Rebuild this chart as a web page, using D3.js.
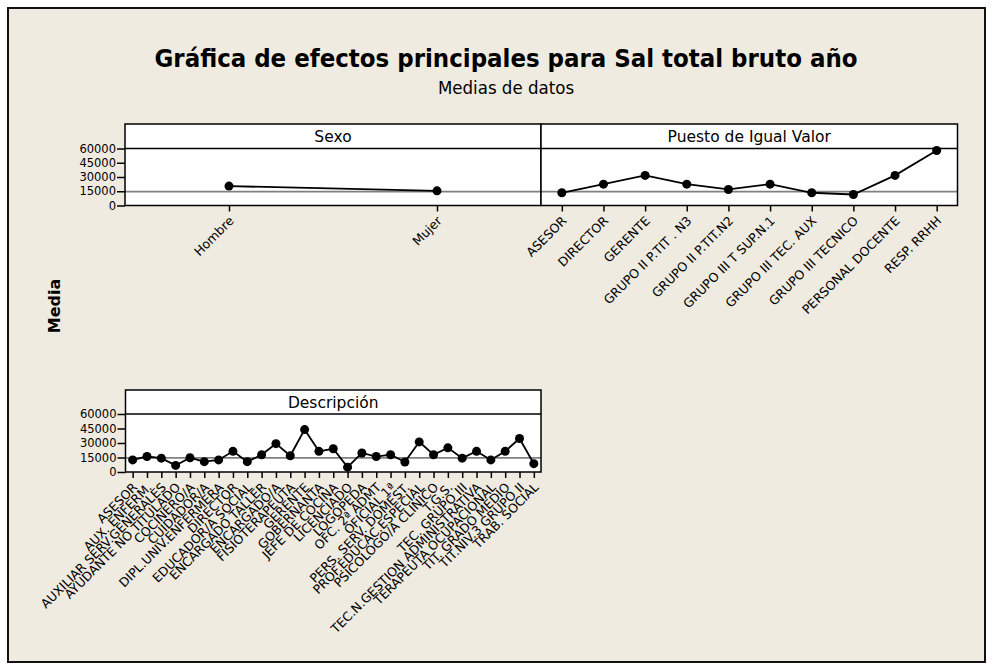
<!DOCTYPE html>
<html>
<head>
<meta charset="utf-8">
<script src="https://cdn.jsdelivr.net/npm/d3@7"></script>
<style>
  body { margin: 0; background: #fff; }
  svg text { font-family: Tahoma, "DejaVu Sans", sans-serif; fill: #000; }
</style>
</head>
<body>
<script>
// datos (medias de Sal total bruto año)
var sexoCats = ["Hombre", "Mujer"];
var sexoVals = [20400, 15400];

var puestoCats = ["ASESOR", "DIRECTOR", "GERENTE", "GRUPO II P.TIT . N3", "GRUPO II P.TIT.N2",
  "GRUPO III T SUP.N.1", "GRUPO III TEC. AUX", "GRUPO III TECNICO", "PERSONAL DOCENTE", "RESP. RRHH"];
var puestoVals = [13400, 22500, 31700, 22500, 16900, 22500, 13400, 11600, 31700, 57900];

var descCats = ["ASESOR", "AUX. ENFERM.", "AUXILIAR SERV.GENERALES", "AYUDANTE NO TITULADO",
  "COCINERO/A", "CUIDADOR/A", "DIPL.UNIV.ENFERMERA", "DIRECTOR", "EDUCADOR/A SOCIAL",
  "ENCARGADO TALLER", "ENCARGADO/A", "FISIOTERAPEUTA", "GERENTE", "GOBERNANTA",
  "JEFE DE COCINA", "LICENCIADO", "LOGOPEDA", "OFC. 2ª ADMT", "OFICIAL 1ª",
  "PERS. SERV. DOMEST.", "PROF.EDUCAC.ESPECIAL", "PSICOLOGO/A CLINICO", "T.G.S.",
  "TEC. GRUPO III", "TEC.N.GESTION ADMINISTRATIVA", "TERAPEUTA OCUPACIONAL",
  "TIT. GRADO MEDIO", "TIT.NIV.3 GRUPO II", "TRAB. SOCIAL"];
var descVals = [12500, 16000, 14300, 6800, 14700, 10700, 12500, 21400, 10700, 17900,
  29300, 16800, 43900, 21400, 24000, 5000, 19700, 16000, 17900, 10400,
  31100, 17900, 25000, 14300, 21400, 12500, 21400, 34700, 8600];

var mediaGeneral = 14700;
var yTicks = [0, 15000, 30000, 45000, 60000];

var W = 993, H = 670;
var svg = d3.select("body").append("svg")
    .attr("width", W)
    .attr("height", H);

// fondo beige con marco
svg.append("rect")
    .attr("x", 8).attr("y", 8)
    .attr("width", 977).attr("height", 654)
    .attr("fill", "#efebe1")
    .attr("stroke", "#111")
    .attr("stroke-width", 2);

// titulos
svg.append("text")
    .attr("x", 506).attr("y", 67)
    .attr("text-anchor", "middle")
    .style("font-size", "25.5px")
    .style("font-weight", "bold")
    .style("font-family", "'DejaVu Sans Condensed', 'DejaVu Sans', sans-serif")
    .text("Gráfica de efectos principales para Sal total bruto año");

svg.append("text")
    .attr("x", 506).attr("y", 94)
    .attr("text-anchor", "middle")
    .style("font-size", "18.5px")
    .style("font-family", "'DejaVu Sans Condensed', 'DejaVu Sans', sans-serif")
    .text("Medias de datos");

svg.append("text")
    .attr("transform", "translate(60,306) rotate(-90)")
    .attr("text-anchor", "middle")
    .style("font-size", "16px")
    .style("font-weight", "bold")
    .text("Media");

// dibuja un panel (tira con titulo + area de grafico)
function panel(p) {
  var g = svg.append("g");

  var x = d3.scalePoint()
      .domain(p.cats)
      .range([p.x0, p.x1])
      .padding(0.5);

  var y = d3.scaleLinear()
      .domain([0, 60000])
      .range([p.bottom, p.top]);

  g.append("rect")
      .attr("x", p.x0).attr("y", p.strip)
      .attr("width", p.x1 - p.x0).attr("height", p.bottom - p.strip)
      .attr("fill", "#fff");

  // linea de la media general
  g.append("line")
      .attr("x1", p.x0).attr("x2", p.x1)
      .attr("y1", y(mediaGeneral)).attr("y2", y(mediaGeneral))
      .attr("stroke", "#808080")
      .attr("stroke-width", 1.8);

  // eje x
  var ax = g.append("g")
      .attr("transform", "translate(0," + p.bottom + ")")
      .call(d3.axisBottom(x).tickSize(6).tickSizeOuter(0));
  ax.select(".domain").remove();
  ax.selectAll("line").attr("stroke", "#000").attr("stroke-width", 1.5);
  ax.selectAll("text")
      .attr("x", 0).attr("y", 0)
      .attr("dy", "0.35em")
      .attr("text-anchor", "end")
      .attr("transform", "translate(2,13) rotate(-45)")
      .style("font-size", "12.5px")
      .style("font-family", "Tahoma, 'DejaVu Sans', sans-serif");

  if (p.yAxis) {
    var ay = g.append("g")
        .attr("transform", "translate(" + p.x0 + ",0)")
        .call(d3.axisLeft(y).tickValues(yTicks).tickSize(8).tickSizeOuter(0).tickFormat(d3.format("d")));
    ay.select(".domain").remove();
    ay.selectAll("line").attr("stroke", "#000").attr("stroke-width", 1.5);
    ay.selectAll("text")
        .attr("x", -9)
        .style("font-size", "11.5px")
        .style("font-family", "Tahoma, 'DejaVu Sans', sans-serif");
  }

  var line = d3.line()
      .x(function(d, i) { return x(p.cats[i]); })
      .y(function(d) { return y(d); });

  g.append("path")
      .attr("d", line(p.vals))
      .attr("fill", "none")
      .attr("stroke", "#000")
      .attr("stroke-width", 1.8);

  g.selectAll(".pt")
      .data(p.vals)
      .enter().append("circle")
      .attr("class", "pt")
      .attr("cx", function(d, i) { return x(p.cats[i]); })
      .attr("cy", function(d) { return y(d); })
      .attr("r", 4.5)
      .attr("fill", "#000");

  // marco y tira
  g.append("rect")
      .attr("x", p.x0).attr("y", p.strip)
      .attr("width", p.x1 - p.x0).attr("height", p.bottom - p.strip)
      .attr("fill", "none")
      .attr("stroke", "#000")
      .attr("stroke-width", 1.5);
  g.append("line")
      .attr("x1", p.x0).attr("x2", p.x1)
      .attr("y1", p.top).attr("y2", p.top)
      .attr("stroke", "#000")
      .attr("stroke-width", 1.5);
  g.append("text")
      .attr("x", (p.x0 + p.x1) / 2)
      .attr("y", p.top - 6.5)
      .attr("text-anchor", "middle")
      .style("font-size", "15.5px")
      .text(p.title);
}

panel({x0: 125, x1: 541, strip: 124, top: 148.5, bottom: 205.5,
  cats: sexoCats, vals: sexoVals, title: "Sexo", yAxis: true});
panel({x0: 541, x1: 957.5, strip: 124, top: 148.5, bottom: 205.5,
  cats: puestoCats, vals: puestoVals, title: "Puesto de Igual Valor", yAxis: false});
panel({x0: 125.5, x1: 541, strip: 390, top: 414, bottom: 472,
  cats: descCats, vals: descVals, title: "Descripción", yAxis: true});
</script>
</body>
</html>
